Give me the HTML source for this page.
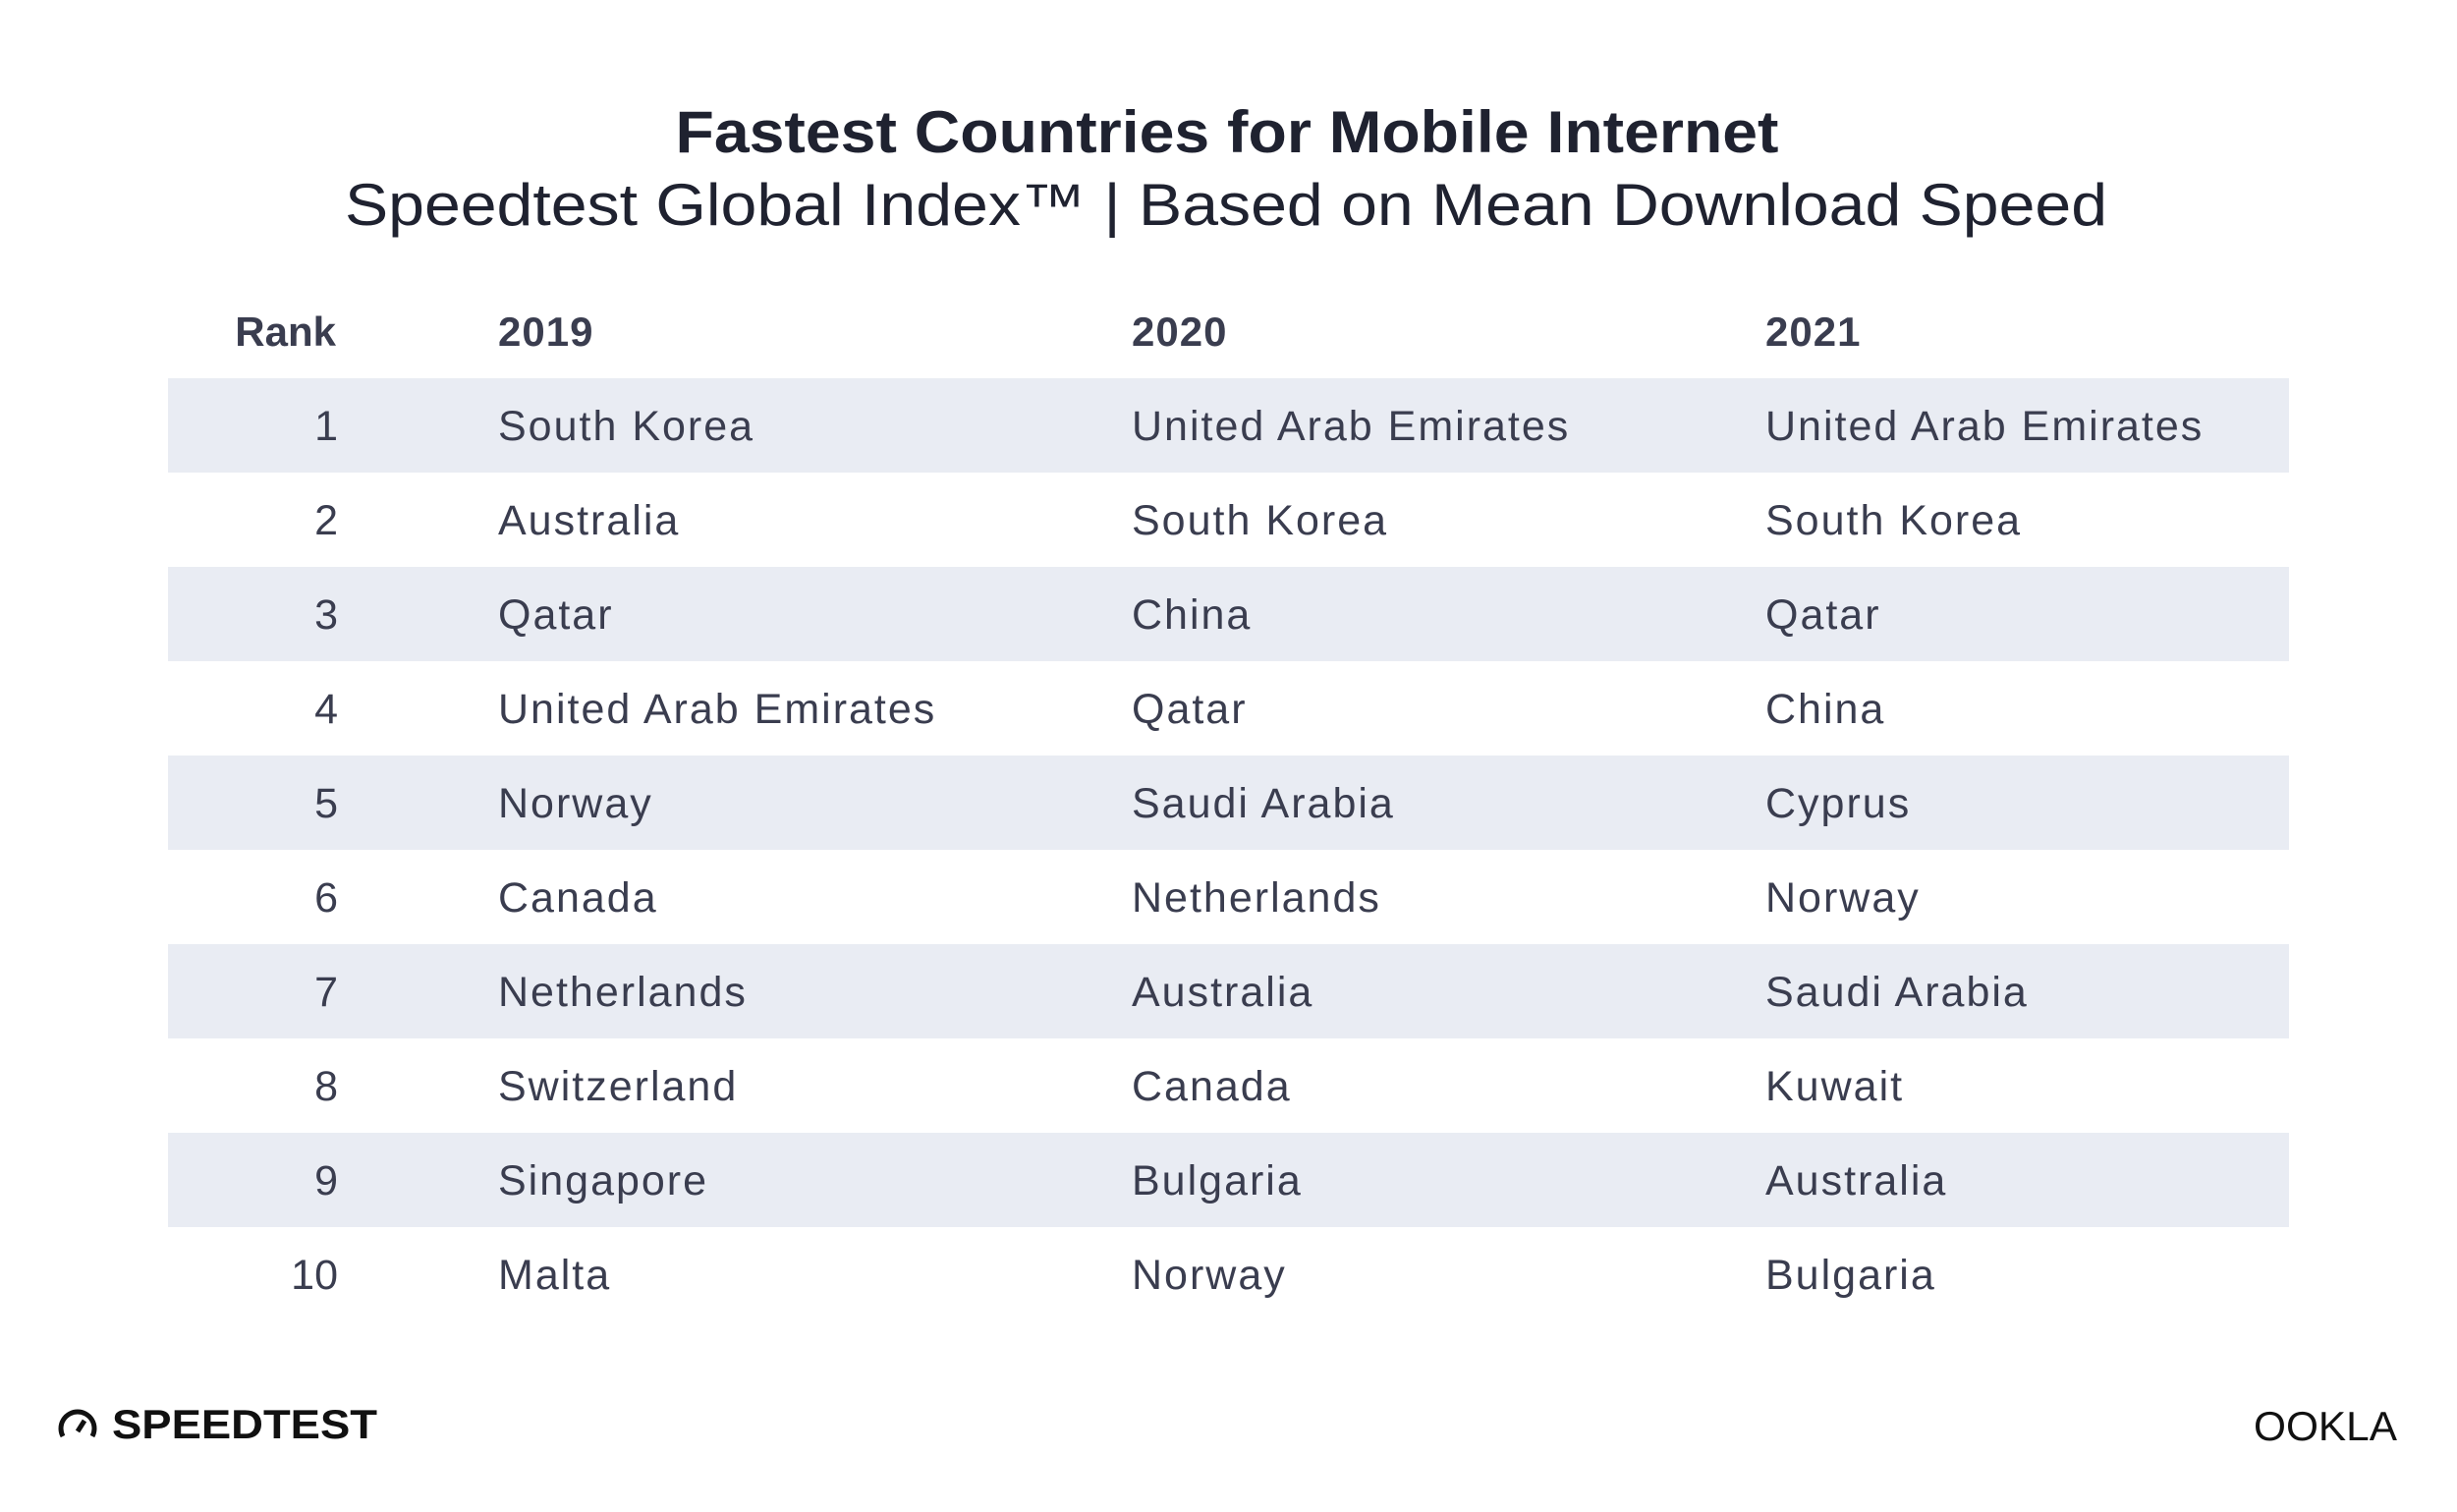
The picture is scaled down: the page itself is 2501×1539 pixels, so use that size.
<!DOCTYPE html>
<html><head><meta charset="utf-8"><style>
html,body{margin:0;padding:0;background:#fff;}
svg{display:block;}
text{font-family:"Liberation Sans",sans-serif;fill:#3a3d4f;}
.r{letter-spacing:0;}
</style></head><body>
<svg width="2501" height="1539" viewBox="0 0 2501 1539" xmlns="http://www.w3.org/2000/svg">
<rect width="2501" height="1539" fill="#fff"/>
<text x="1249" y="155" text-anchor="middle" font-size="60" font-weight="bold" style="fill:#1f2230" textLength="1123" lengthAdjust="spacingAndGlyphs">Fastest Countries for Mobile Internet</text>
<text x="1248" y="229" text-anchor="middle" font-size="60" style="fill:#1f2230" textLength="1794" lengthAdjust="spacingAndGlyphs">Speedtest Global Index™ | Based on Mean Download Speed</text>
<g fill="#e9ecf3">
<rect x="171" y="385" width="2159" height="96"/>
<rect x="171" y="577" width="2159" height="96"/>
<rect x="171" y="769" width="2159" height="96"/>
<rect x="171" y="961" width="2159" height="96"/>
<rect x="171" y="1153" width="2159" height="96"/>
</g>
<g font-size="42" font-weight="bold" letter-spacing="1">
<text class="r" x="342" y="352" text-anchor="end">Rank</text>
<text x="507" y="352">2019</text>
<text x="1152" y="352">2020</text>
<text x="1797" y="352">2021</text>
</g>
<g font-size="43" letter-spacing="2" style="fill:#44475a">
<text class="r" x="344" y="448" text-anchor="end">1</text><text x="507" y="448">South Korea</text><text x="1152" y="448">United Arab Emirates</text><text x="1797" y="448">United Arab Emirates</text>
<text class="r" x="344" y="544" text-anchor="end">2</text><text x="507" y="544">Australia</text><text x="1152" y="544">South Korea</text><text x="1797" y="544">South Korea</text>
<text class="r" x="344" y="640" text-anchor="end">3</text><text x="507" y="640">Qatar</text><text x="1152" y="640">China</text><text x="1797" y="640">Qatar</text>
<text class="r" x="344" y="736" text-anchor="end">4</text><text x="507" y="736">United Arab Emirates</text><text x="1152" y="736">Qatar</text><text x="1797" y="736">China</text>
<text class="r" x="344" y="832" text-anchor="end">5</text><text x="507" y="832">Norway</text><text x="1152" y="832">Saudi Arabia</text><text x="1797" y="832">Cyprus</text>
<text class="r" x="344" y="928" text-anchor="end">6</text><text x="507" y="928">Canada</text><text x="1152" y="928">Netherlands</text><text x="1797" y="928">Norway</text>
<text class="r" x="344" y="1024" text-anchor="end">7</text><text x="507" y="1024">Netherlands</text><text x="1152" y="1024">Australia</text><text x="1797" y="1024">Saudi Arabia</text>
<text class="r" x="344" y="1120" text-anchor="end">8</text><text x="507" y="1120">Switzerland</text><text x="1152" y="1120">Canada</text><text x="1797" y="1120">Kuwait</text>
<text class="r" x="344" y="1216" text-anchor="end">9</text><text x="507" y="1216">Singapore</text><text x="1152" y="1216">Bulgaria</text><text x="1797" y="1216">Australia</text>
<text class="r" x="344" y="1312" text-anchor="end">10</text><text x="507" y="1312">Malta</text><text x="1152" y="1312">Norway</text><text x="1797" y="1312">Bulgaria</text>
</g>
<path d="M64 1462 A17 17 0 1 1 94 1462" fill="none" stroke="#111" stroke-width="5"/>
<line x1="79" y1="1457" x2="86" y2="1446" stroke="#111" stroke-width="5"/>
<text x="114" y="1464" font-size="42" font-weight="bold" style="fill:#111" textLength="270" lengthAdjust="spacingAndGlyphs">SPEEDTEST</text>
<text x="2294" y="1466" font-size="42" style="fill:#111" textLength="146" lengthAdjust="spacingAndGlyphs">OOKLA</text>
</svg>
</body></html>
